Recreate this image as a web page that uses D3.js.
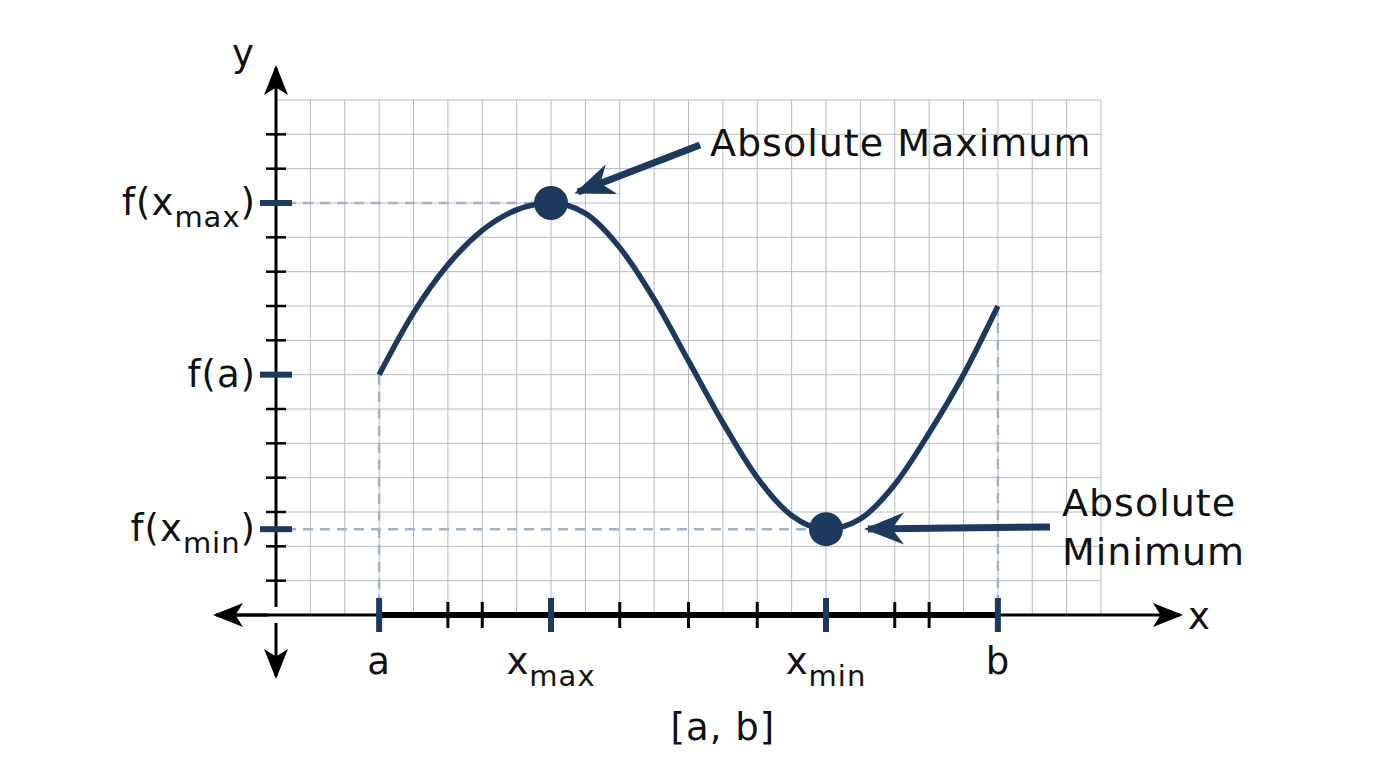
<!DOCTYPE html>
<html><head><meta charset="utf-8">
<script src="https://cdn.jsdelivr.net/npm/d3@7"></script>
<style>body{margin:0;background:#fff}text{font-family:"DejaVu Sans",sans-serif;letter-spacing:1px}</style>
</head><body><div id="chart"></div>
<script>
const curveX = [3,4,5,6,7,8,9,10,11,12,13,14,15,16,17,18,19,20,21];
const curveY = [7,8.8,10.2,11.2,11.8,12,11.7,10.7,9.2,7.4,5.6,4.0,2.9,2.5,2.8,3.8,5.3,7.0,9.0];
const xTicks = [3,5,6,8,10,12,14,16,18,19,21];
const xLabels = [{v:3,t:"a"},{v:8,t:"x",s:"max"},{v:16,t:"x",s:"min"},{v:21,t:"b"}];
const yLabels = [{v:12,t:"f(x",s:"max",e:")"},{v:7,t:"f(a)"},{v:2.5,t:"f(x",s:"min",e:")"}];
const extrema = [{x:8,y:12},{x:16,y:2.5}];

const width = 1376, height = 768, navy = "#1b3a5e";
const x = d3.scaleLinear().domain([0,24]).range([276,1101]);
const y = d3.scaleLinear().domain([0,15]).range([615,100]);

const svg = d3.select("#chart").append("svg").attr("width",width).attr("height",height);
const defs = svg.append("defs");
defs.append("marker").attr("id","ah").attr("viewBox","0 0 10 10").attr("refX",9).attr("refY",5)
  .attr("markerUnits","userSpaceOnUse").attr("markerWidth",40).attr("markerHeight",40).attr("orient","auto")
  .append("path").attr("d","M0,1 L10,5 L0,9 L3,5 Z").attr("fill",navy);
defs.append("marker").attr("id","bh").attr("viewBox","0 0 10 10").attr("refX",9).attr("refY",5)
  .attr("markerUnits","userSpaceOnUse").attr("markerWidth",30).attr("markerHeight",30).attr("orient","auto")
  .append("path").attr("d","M0,1 L10,5 L0,9 L2.5,5 Z").attr("fill","#000");

// grid
const grid = svg.append("g").attr("stroke","#b5b9bf").attr("stroke-width",1);
d3.range(1,25).forEach(i=>grid.append("line").attr("x1",x(i)).attr("x2",x(i)).attr("y1",y(15)).attr("y2",y(0)));
d3.range(1,16).forEach(i=>grid.append("line").attr("x1",x(0)).attr("x2",x(24)).attr("y1",y(i)).attr("y2",y(i)));

// guides
const guide = svg.append("g").attr("stroke","#a3b3c4").attr("stroke-width",2.5).attr("stroke-dasharray","10,7");
[[3,7],[21,9]].forEach(([a,b])=>guide.append("line").attr("x1",x(a)).attr("x2",x(a)).attr("y1",y(b)).attr("y2",y(0)));
extrema.forEach(d=>guide.append("line").attr("x1",x(0)+10).attr("x2",x(d.x)).attr("y1",y(d.y)).attr("y2",y(d.y)));

// axes
svg.append("line").attr("x1",218).attr("x2",1180).attr("y1",y(0)).attr("y2",y(0)).attr("stroke","#000").attr("stroke-width",3)
  .attr("marker-end","url(#bh)");
svg.append("line").attr("x1",x(0)-8).attr("x2",216).attr("y1",y(0)).attr("y2",y(0)).attr("stroke","#000").attr("stroke-width",3)
  .attr("marker-end","url(#bh)");
svg.append("line").attr("x1",x(0)).attr("x2",x(0)).attr("y1",y(0)-8).attr("y2",68).attr("stroke","#000").attr("stroke-width",3)
  .attr("marker-end","url(#bh)");
svg.append("line").attr("x1",x(0)).attr("x2",x(0)).attr("y1",y(0)+8).attr("y2",676).attr("stroke","#000").attr("stroke-width",3)
  .attr("marker-end","url(#bh)");
svg.append("line").attr("x1",x(3)).attr("x2",x(21)).attr("y1",y(0)).attr("y2",y(0)).attr("stroke","#000").attr("stroke-width",6);

d3.range(1,15).filter(v=>v!==12&&v!==7).forEach(v=>svg.append("line").attr("x1",x(0)-10).attr("x2",x(0)+10)
  .attr("y1",y(v)).attr("y2",y(v)).attr("stroke","#000").attr("stroke-width",2.5));
xTicks.forEach(v=>{
  const major = xLabels.some(l=>l.v===v);
  svg.append("line").attr("x1",x(v)).attr("x2",x(v)).attr("y1",y(0)-(major?17:13)).attr("y2",y(0)+(major?17:13))
    .attr("stroke",major?navy:"#000").attr("stroke-width",major?6:3);
});
yLabels.forEach(d=>svg.append("line").attr("x1",x(0)-16).attr("x2",x(0)+16).attr("y1",y(d.v)).attr("y2",y(d.v))
  .attr("stroke",navy).attr("stroke-width",6));

// curve
const pts = curveX.map((v,i)=>[v,curveY[i]]);
svg.append("path").datum(pts).attr("fill","none").attr("stroke",navy).attr("stroke-width",5.5)
  .attr("d",d3.line().x(d=>x(d[0])).y(d=>y(d[1])).curve(d3.curveMonotoneX));
svg.selectAll(".pt").data(extrema).join("circle").attr("cx",d=>x(d.x)).attr("cy",d=>y(d.y)).attr("r",17).attr("fill",navy);

// labels
const fs = 37;
xLabels.forEach(d=>{
  const t = svg.append("text").attr("x",x(d.v)).attr("y",674).attr("text-anchor","middle").attr("font-size",fs).attr("fill","#111");
  t.append("tspan").text(d.t);
  if(d.s) t.append("tspan").attr("font-size",29).attr("dy",12).text(d.s);
});
yLabels.forEach(d=>{
  const t = svg.append("text").attr("x",x(0)-20).attr("y",y(d.v)+12).attr("text-anchor","end").attr("font-size",fs).attr("fill","#111");
  t.append("tspan").text(d.t);
  if(d.s){t.append("tspan").attr("font-size",29).attr("dy",12).text(d.s);
    t.append("tspan").attr("dy",-12).text(d.e);}
});
svg.append("text").attr("x",x(0)-44).attr("y",66).attr("font-size",fs).attr("fill","#111").text("y");
svg.append("text").attr("x",1188).attr("y",y(0)+14).attr("font-size",fs).attr("fill","#111").text("x");
svg.append("text").attr("x",x(13)).attr("y",740).attr("text-anchor","middle").attr("font-size",fs).attr("fill","#111").text("[a, b]");

// annotations
svg.append("line").attr("x1",700).attr("y1",145).attr("x2",578).attr("y2",192).attr("stroke",navy).attr("stroke-width",7).attr("marker-end","url(#ah)");
svg.append("text").attr("x",710).attr("y",156).attr("font-size",38).attr("letter-spacing",1.5).attr("fill","#111").text("Absolute Maximum");
svg.append("line").attr("x1",1050).attr("y1",527).attr("x2",868).attr("y2",529).attr("stroke",navy).attr("stroke-width",7).attr("marker-end","url(#ah)");
svg.append("text").attr("x",1062).attr("y",516).attr("font-size",38).attr("letter-spacing",1.5).attr("fill","#111").text("Absolute");
svg.append("text").attr("x",1062).attr("y",565).attr("font-size",38).attr("letter-spacing",1.5).attr("fill","#111").text("Minimum");
</script></body></html>
